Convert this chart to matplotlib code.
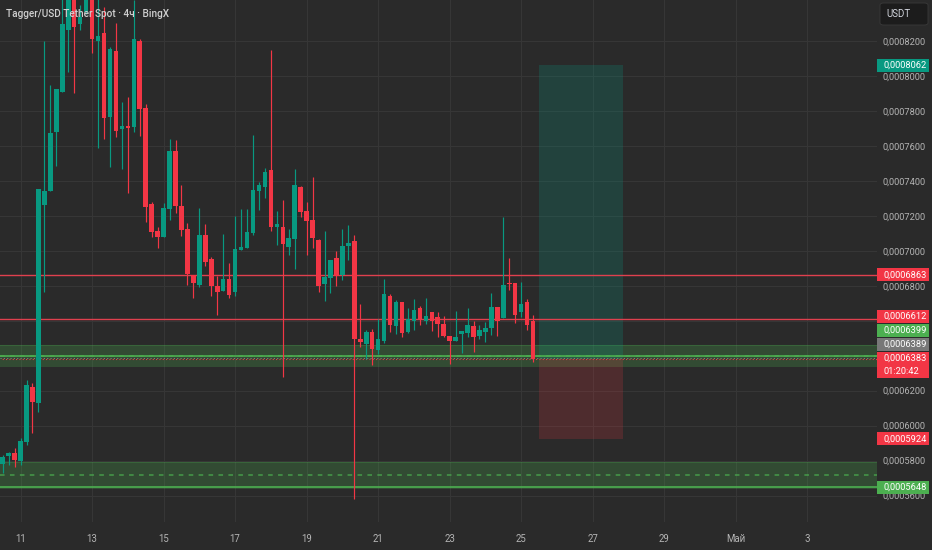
import numpy as np
import pandas as pd
import matplotlib
matplotlib.use('Agg')
import matplotlib.pyplot as plt
import matplotlib.dates as mdates
from matplotlib.patches import Rectangle, FancyBboxPatch

# 4h candles of Tagger/USDT, prices in units of 1e-7 USDT
opens = [5780, 5826, 5843, 5797, 5906, 6221, 6129, 7262, 7342, 7679,
         7908, 8263, 8520, 8297, 8366, 8549, 8200, 8246, 7765, 8143,
         7697, 7714, 7708, 8200, 7817, 7268, 7113, 7079, 7239, 7571,
         7256, 7125, 6861, 6804, 7090, 6953, 6799, 6770, 6839, 6764,
         7004, 7016, 7102, 7342, 7365, 7462, 7136, 7136, 7022, 7067,
         7365, 7228, 7176, 7062, 6810, 6844, 6959, 6861, 7027, 7056,
         6495, 6467, 6535, 6433, 6484, 6741, 6570, 6707, 6535, 6598,
         6673, 6598, 6650, 6621, 6581, 6513, 6484, 6524, 6530, 6570,
         6513, 6535, 6558, 6678, 6615, 6816, 6816, 6650, 6707, 6598]
highs = [5832, 5849, 5872, 5929, 6261, 6244, 7353, 8200, 7948, 7925,
         8463, 8577, 8549, 8406, 8635, 8577, 8463, 8394, 8166, 8303,
         7851, 7880, 8434, 8211, 7840, 7279, 7136, 7273, 7639, 7634,
         7376, 7159, 6861, 7245, 7153, 6964, 6856, 7096, 6930, 7199,
         7239, 7239, 7662, 7393, 7474, 8148, 7228, 7290, 7125, 7468,
         7371, 7279, 7422, 7067, 7113, 6947, 6999, 7125, 7147, 7090,
         6696, 6547, 6553, 6610, 6839, 6753, 6718, 6707, 6673, 6724,
         6684, 6730, 6650, 6650, 6627, 6513, 6656, 6541, 6673, 6598,
         6575, 6593, 6759, 6678, 7193, 6959, 6816, 6821, 6724, 6633]
lows = [5729, 5775, 5763, 5775, 5889, 5958, 6078, 6764, 7342, 7485,
        7908, 8023, 7903, 8263, 8354, 8131, 7588, 7639, 7479, 7651,
        7468, 7330, 7679, 7657, 7165, 7079, 7016, 7079, 7176, 7216,
        7085, 6804, 6730, 6793, 6913, 6741, 6633, 6770, 6730, 6741,
        7004, 7016, 7090, 7233, 7302, 7113, 7033, 6278, 6976, 6896,
        7193, 6976, 7016, 6764, 6713, 6759, 6799, 6833, 6947, 5580,
        6450, 6381, 6347, 6410, 6472, 6535, 6524, 6507, 6530, 6547,
        6575, 6581, 6541, 6507, 6507, 6352, 6484, 6415, 6507, 6421,
        6495, 6478, 6518, 6513, 6615, 6776, 6587, 6621, 6547, 6364]
closes = [5820, 5843, 5803, 5912, 6232, 6135, 7353, 7342, 7674, 7925,
          8297, 8520, 8280, 8337, 8549, 8211, 8229, 7760, 8154, 7685,
          7714, 7702, 8211, 7811, 7250, 7107, 7079, 7245, 7571, 7256,
          7119, 6867, 6816, 7090, 6936, 6799, 6764, 6839, 6747, 7010,
          7022, 7107, 7348, 7376, 7451, 7136, 7153, 7039, 7073, 7376,
          7222, 7170, 7073, 6799, 6850, 6947, 6856, 7027, 7045, 6495,
          6478, 6535, 6438, 6495, 6753, 6575, 6707, 6530, 6610, 6661,
          6610, 6627, 6598, 6581, 6513, 6484, 6507, 6541, 6575, 6507,
          6547, 6558, 6678, 6598, 6804, 6810, 6633, 6696, 6575, 6383]
UNIT = 1e-7
first_candle = '2025-04-10 12:00'

# drawn levels
resistance = [0.0006863, 0.0006612]
zone_top = (0.0006335, 0.0006461)
zone_top_line = 0.0006399
zone_low = (0.0005640, 0.0005792)
zone_low_line = 0.0005648
bid_price = 0.0006389
entry, take_profit, stop_loss = 0.0006383, 0.0008062, 0.0005924
pos_start, pos_end = '2025-04-25 12:00', '2025-04-27 20:00'
timer = '01:20:42'

# price ticks (those hidden behind the label boxes get no text)
price_ticks = [5600, 5800, 6000, 6200, 6400, 6600, 6800, 7000, 7200, 7400, 7600, 7800, 8000, 8200]
hidden_ticks = [6400, 6600]
day_ticks = ['2025-04-11', '2025-04-13', '2025-04-15', '2025-04-17', '2025-04-19',
             '2025-04-21', '2025-04-23', '2025-04-25', '2025-04-27', '2025-04-29',
             '2025-05-01', '2025-05-03']
day_labels = ['11', '13', '15', '17', '19', '21', '23', '25', '27', '29', 'Май', '3']

BG = '#2a2a2a'
GRID = '#363636'
UP = '#089981'
DOWN = '#f23645'
LVL = '#4caf50'
TXT = '#b4b4b4'
plt.rcParams['font.family'] = ['Roboto', 'DejaVu Sans']


def fmt(v):
    return ('%.7f' % v).replace('.', ',')


fig = plt.figure(figsize=(9.32, 5.5), dpi=100, facecolor=BG)
ax = fig.add_axes([0, 28 / 550, 877 / 932, 522 / 550])
ax.set_facecolor(BG)
for s in ax.spines.values():
    s.set_visible(False)

o = np.array(opens) * UNIT
h = np.array(highs) * UNIT
l = np.array(lows) * UNIT
c = np.array(closes) * UNIT
t = pd.date_range(first_candle, periods=len(o), freq='4h')
x = mdates.date2num(t)
step = 4 / 24

ymin, ymax = 0.00054487, 0.00084345
ax.set_ylim(ymin, ymax)
ax.set_xlim(x[0] - 0.45 * step, x[0] + 146.7 * step)
ppx = (ymax - ymin) / 522.0  # price per pixel

# grid + axes
ax.set_yticks(np.array(price_ticks) * UNIT)
ax.set_yticklabels(['' if p in hidden_ticks else fmt(p * UNIT) for p in price_ticks])
ax.set_xticks(mdates.date2num(pd.to_datetime(day_ticks)))
ax.set_xticklabels(day_labels)
ax.yaxis.tick_right()
ax.tick_params(axis='y', length=0, pad=4.2, labelsize=6.7, labelcolor=TXT)
ax.tick_params(axis='x', length=0, pad=8.5, labelsize=6.9, labelcolor=TXT)
ax.grid(True, color=GRID, lw=0.8, zorder=0)
ax.set_axisbelow(True)

# zones and lines
for lo, hi in [zone_top, zone_low]:
    ax.axhspan(lo, hi, color=LVL, alpha=0.25, lw=0, zorder=1)
    ax.axhline(hi, color=LVL, alpha=0.25, lw=0.8, zorder=1)
    ax.axhline((lo + hi) / 2, color=LVL, alpha=0.8, lw=1.1, ls=(0, (3, 3.5)), zorder=1.5)
ax.axhline(zone_top_line, color=LVL, lw=1.2, zorder=1.6)
ax.axhline(zone_low_line, color=LVL, lw=1.2, zorder=1.6)
for r in resistance:
    ax.axhline(r, color='#e0404e', lw=1.0, zorder=1.6)
ax.axhline(bid_price, color='#808080', lw=0.8, ls=(0, (1, 2)), zorder=1.7)
ax.axhline(entry, color=DOWN, lw=0.8, ls=(1, (1, 2)), zorder=1.7)

# long position tool
xs, xe = mdates.date2num(pd.to_datetime([pos_start, pos_end]))
ax.add_patch(Rectangle((xs, entry), xe - xs, take_profit - entry,
                       facecolor=UP, alpha=0.22, lw=0, zorder=1.2))
ax.add_patch(Rectangle((xs, stop_loss), xe - xs, entry - stop_loss,
                       facecolor=DOWN, alpha=0.18, lw=0, zorder=1.2))

# candles
cols = np.where(c >= o, UP, DOWN)
ax.vlines(x, l, h, colors=cols, lw=0.85, zorder=3)
body = np.maximum(np.abs(c - o), ppx)
ax.bar(x, body, bottom=np.minimum(o, c), width=step * 0.76, color=cols, lw=0, zorder=4)

# title
fig.text(6 / 932, 1 - 14 / 550, 'Tagger/USD Tether Spot · 4ч · BingX',
         color='#d0d0d0', fontsize=7.2, fontweight='medium', va='center', ha='left', zorder=10)

# price-axis label boxes (stacked upwards from the live price like TradingView)
labels = [(take_profit, UP), (resistance[0], DOWN), (resistance[1], DOWN),
          (zone_top_line, LVL), (bid_price, '#787878'), (entry, DOWN),
          (stop_loss, DOWN), (zone_low_line, LVL)]
gap = 14 * ppx
pos = [p for p, _ in labels]
k = 5  # live price label is fixed
for i in range(k - 1, -1, -1):
    pos[i] = max(labels[i][0], pos[i + 1] + gap)
ytr = ax.get_yaxis_transform()
bw = 52 / 877.0
for i, (p, col) in enumerate(labels):
    hh = 13 * ppx
    extra = 13 * ppx if i == k else 0
    ax.add_patch(Rectangle((1.0, pos[i] - hh / 2 - extra), bw, hh + extra, transform=ytr,
                           facecolor=col, lw=0, clip_on=False, zorder=20))
    ax.text(1.0 + 6 / 877.0, pos[i], fmt(p), transform=ytr,
            color='white', fontsize=6.7, va='center', ha='left', clip_on=False, zorder=21)
    if i == k:
        ax.text(1.0 + 6 / 877.0, pos[i] - 13 * ppx, timer, transform=ytr,
                color='white', fontsize=6.7, va='center', ha='left', clip_on=False, zorder=21)

# currency box
fig.patches.append(FancyBboxPatch((880 / 932, 1 - 25 / 550), 48 / 932, 22 / 550,
                                  boxstyle='round,pad=0,rounding_size=0.004',
                                  transform=fig.transFigure, facecolor='#1c1c1c',
                                  edgecolor='#3a3a3a', lw=0.6))
fig.text(886 / 932, 1 - 14 / 550, 'USDT', color='#d1d4dc', fontsize=7,
         va='center', ha='left')

fig.savefig('out.png', dpi=100, facecolor=BG)
